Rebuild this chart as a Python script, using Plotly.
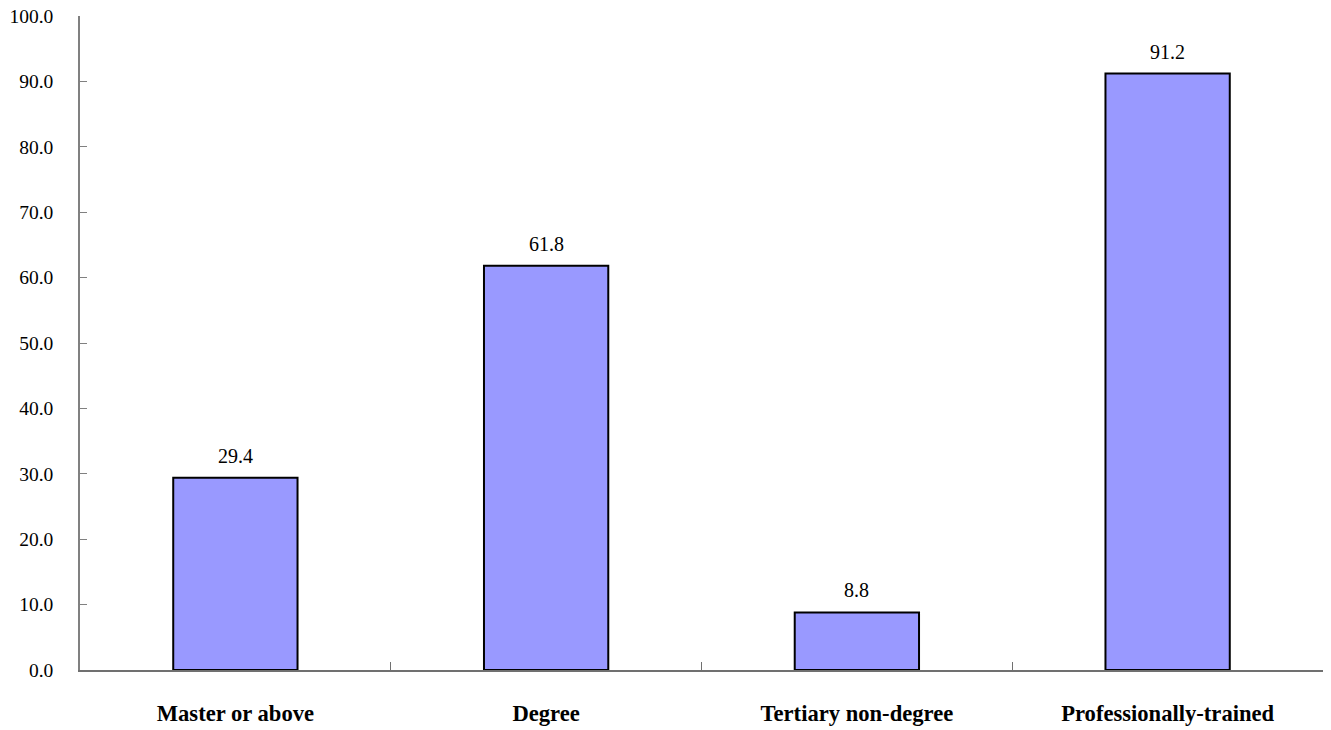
import plotly.graph_objects as go

categories = ["Master or above", "Degree", "Tertiary non-degree", "Professionally-trained"]
values = [29.4, 61.8, 8.8, 91.2]
y_ticks = [0, 10, 20, 30, 40, 50, 60, 70, 80, 90, 100]

FONT = "Liberation Serif"

fig = go.Figure(
    go.Bar(
        x=categories,
        y=values,
        width=0.4,
        marker=dict(color="#9999FF", line=dict(color="#000000", width=2)),
        hoverinfo="x+y",
    )
)

for c, v in zip(categories, values):
    fig.add_annotation(
        x=c, y=v, text=f"{v:.1f}", showarrow=False,
        yanchor="bottom", yshift=9,
        font=dict(family=FONT, size=20, color="#000000"),
    )

fig.update_layout(
    width=1331,
    height=730,
    margin=dict(l=80, r=8, t=16, b=60, autoexpand=False),
    paper_bgcolor="white",
    plot_bgcolor="white",
    showlegend=False,
    font=dict(family=FONT, color="#000000"),
)

fig.update_xaxes(
    type="category",
    tickson="boundaries",
    ticks="inside",
    ticklen=8,
    tickcolor="#707070",
    tickwidth=1,
    showline=True,
    linecolor="#707070",
    linewidth=1.5,
    showgrid=False,
    automargin=False,
    tickfont=dict(family=FONT, size=22.6, color="#000000", weight="bold"),
    ticklabelstandoff=22,
)

fig.update_yaxes(
    range=[0, 100],
    tickvals=y_ticks,
    tickformat=".1f",
    ticks="inside",
    ticklen=7,
    tickcolor="#808080",
    tickwidth=1,
    showline=True,
    linecolor="#808080",
    linewidth=1.5,
    showgrid=False,
    zeroline=False,
    automargin=False,
    tickfont=dict(family=FONT, size=19.5, color="#000000"),
    ticklabelstandoff=21,
)

fig.write_html(
    "out.html",
    config={"displayModeBar": False},
    post_script="document.body.style.margin='0';",
)
